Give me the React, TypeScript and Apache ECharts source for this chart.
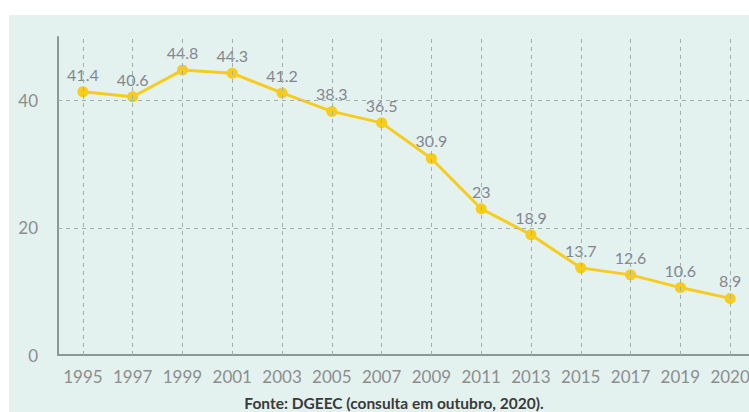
import React, { useEffect, useRef } from "react";
import * as echarts from "echarts";

const categories = ["1995", "1997", "1999", "2001", "2003", "2005", "2007", "2009", "2011", "2013", "2015", "2017", "2019", "2020"];
const values = [41.4, 40.6, 44.8, 44.3, 41.2, 38.3, 36.5, 30.9, 23, 18.9, 13.7, 12.6, 10.6, 8.9];
const yGridValues = [20, 40];
const yTicks = [0, 20, 40];
const sourceNote = "Fonte: DGEEC (consulta em outubro, 2020).";

export default function App() {
  const ref = useRef<HTMLDivElement>(null);
  useEffect(() => {
    document.body.style.margin = "0";
    document.body.style.overflow = "hidden";
    const chart = echarts.init(ref.current!, null, { renderer: "svg" });
    const gridStyle = { color: "#a3b0ad", width: 1, type: [4, 4] as any };
    chart.setOption({
      animation: false,
      backgroundColor: "#ffffff",
      graphic: [
        { type: "rect", z: -10, shape: { x: 9, y: 15, width: 760, height: 420 }, style: { fill: "#e3f2ef" } },
        {
          type: "text",
          x: 394,
          y: 403,
          style: {
            text: sourceNote,
            fontFamily: "Lato",
            fontWeight: "bold",
            fontSize: 15.5,
            fill: "#3a3a3a",
            align: "center",
            verticalAlign: "middle",
          },
        },
      ],
      grid: { left: 58, right: 5, top: 37, bottom: 57 },
      xAxis: {
        type: "category",
        data: categories,
        boundaryGap: true,
        axisLine: { show: true, lineStyle: { color: "#8c9896", width: 2 } },
        axisTick: { show: false },
        splitLine: { show: false },
        axisLabel: { color: "#8d8d8d", fontSize: 17, fontFamily: "Lato", margin: 13, interval: 0 },
      },
      yAxis: {
        type: "value",
        min: 0,
        max: 50,
        interval: 20,
        axisLine: { show: true, lineStyle: { color: "#8c9896", width: 2 } },
        axisTick: { show: false },
        splitLine: { show: false },
        axisLabel: {
          color: "#8d8d8d",
          fontSize: 17,
          fontFamily: "Lato",
          margin: 20,
          showMaxLabel: false,
          formatter: (v: number) => (yTicks.includes(v) ? String(v) : ""),
        },
      },
      series: [
        {
          type: "line",
          data: values,
          z: 1,
          silent: true,
          symbol: "none",
          showSymbol: false,
          lineStyle: { opacity: 0 },
          label: { show: false },
          markLine: {
            silent: true,
            symbol: "none",
            label: { show: false },
            lineStyle: gridStyle,
            data: [
              ...categories.map((_, i) => ({ xAxis: i })),
              ...yGridValues.map((v) => ({ yAxis: v })),
            ],
          },
        },
        {
          type: "line",
          data: values,
          z: 3,
          symbol: "circle",
          symbolSize: 11,
          lineStyle: { color: "#f7cc1d", width: 3 },
          itemStyle: { color: "#f7cc1d" },
          label: {
            show: true,
            position: "top",
            distance: 4,
            color: "#858590",
            fontSize: 16,
            fontFamily: "Lato",
          },
        },
      ],
    });
    return () => chart.dispose();
  }, []);
  return (
    <div style={{ width: 749, height: 412, overflow: "hidden" }}>
      <div ref={ref} style={{ width: 760, height: 412 }} />
    </div>
  );
}
